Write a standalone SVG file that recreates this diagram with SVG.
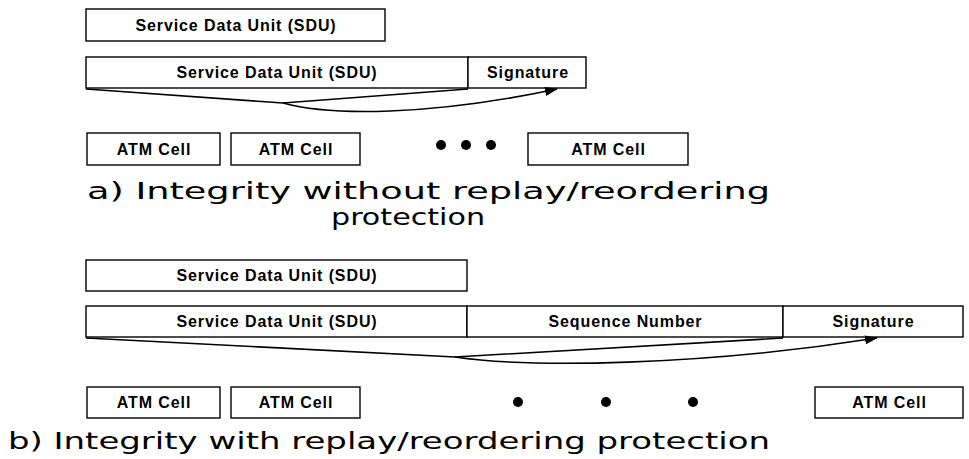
<svg xmlns="http://www.w3.org/2000/svg" width="969" height="459" viewBox="0 0 969 459">
<style>
.box{fill:#fff;stroke:#000;stroke-width:1.4}
.lbl{font-family:"Liberation Sans",Arial,sans-serif;font-weight:bold;font-size:16px;letter-spacing:0.9px;fill:#000;text-anchor:middle}
.cap{font-family:"DejaVu Sans","Liberation Sans",sans-serif;font-size:23px;fill:#000}
.ln{fill:none;stroke:#000;stroke-width:1.6}
.dot{fill:#000}
</style>
<defs>
<marker id="ah" viewBox="0 0 13 9" refX="12" refY="4.5" markerWidth="13" markerHeight="9" markerUnits="userSpaceOnUse" orient="auto">
<path d="M0,0 L13,4.5 L0,9 Z" fill="#000"/>
</marker>
</defs>
<rect width="969" height="459" fill="#fff"/>

<g id="a-sdu">
<rect class="box" x="86" y="9" width="299" height="32"/>
<text class="lbl" x="236" y="31">Service Data Unit (SDU)</text>
</g>
<g id="a-sdu2">
<rect class="box" x="86" y="57" width="382" height="31"/>
<text class="lbl" x="277" y="78">Service Data Unit (SDU)</text>
</g>
<g id="a-sig">
<rect class="box" x="468" y="57" width="118" height="31"/>
<text class="lbl" x="528" y="78">Signature</text>
</g>
<g id="a-cell1">
<rect class="box" x="87" y="133" width="133" height="32"/>
<text class="lbl" x="154" y="155">ATM Cell</text>
</g>
<g id="a-cell2">
<rect class="box" x="231" y="133" width="129" height="32"/>
<text class="lbl" x="296" y="155">ATM Cell</text>
</g>
<g id="a-dots">
<circle class="dot" cx="441" cy="145" r="5"/>
<circle class="dot" cx="466" cy="145" r="5"/>
<circle class="dot" cx="491" cy="145" r="5"/>
</g>
<g id="a-cell3">
<rect class="box" x="528" y="133" width="160" height="32"/>
<text class="lbl" x="608.5" y="155">ATM Cell</text>
</g>
<g id="a-caption">
<text class="cap" x="87" y="199" textLength="683" lengthAdjust="spacingAndGlyphs">a) Integrity without replay/reordering</text>
<text class="cap" x="331" y="225" textLength="154" lengthAdjust="spacingAndGlyphs">protection</text>
</g>

<g id="b-sdu">
<rect class="box" x="86" y="260" width="381" height="31"/>
<text class="lbl" x="277" y="281">Service Data Unit (SDU)</text>
</g>
<g id="b-sdu2">
<rect class="box" x="86" y="306" width="381" height="31"/>
<text class="lbl" x="277" y="327">Service Data Unit (SDU)</text>
</g>
<g id="b-seq">
<rect class="box" x="467" y="306" width="316" height="31"/>
<text class="lbl" x="625.5" y="327">Sequence Number</text>
</g>
<g id="b-sig">
<rect class="box" x="783" y="306" width="180" height="31"/>
<text class="lbl" x="873.5" y="327">Signature</text>
</g>
<g id="b-cell1">
<rect class="box" x="87" y="387" width="133" height="31"/>
<text class="lbl" x="154" y="408">ATM Cell</text>
</g>
<g id="b-cell2">
<rect class="box" x="231" y="387" width="129" height="31"/>
<text class="lbl" x="296" y="408">ATM Cell</text>
</g>
<g id="b-dots">
<circle class="dot" cx="518" cy="402" r="5"/>
<circle class="dot" cx="606" cy="402" r="5"/>
<circle class="dot" cx="693" cy="402" r="5"/>
</g>
<g id="b-cell3">
<rect class="box" x="815" y="387" width="148" height="31"/>
<text class="lbl" x="889.5" y="408">ATM Cell</text>
</g>
<g id="b-caption">
<text class="cap" x="8" y="449" textLength="762" lengthAdjust="spacingAndGlyphs">b) Integrity with replay/reordering protection</text>
</g>

<g id="connectors">
<path class="ln" d="M86,89 L283,103 L468,89"/>
<path class="ln" d="M283,103 C330,116 430,116 557,89" marker-end="url(#ah)"/>
<path class="ln" d="M86,338 L455,357 L783,338"/>
<path class="ln" d="M455,357 C530,368 700,366 877,338" marker-end="url(#ah)"/>
</g>
</svg>
